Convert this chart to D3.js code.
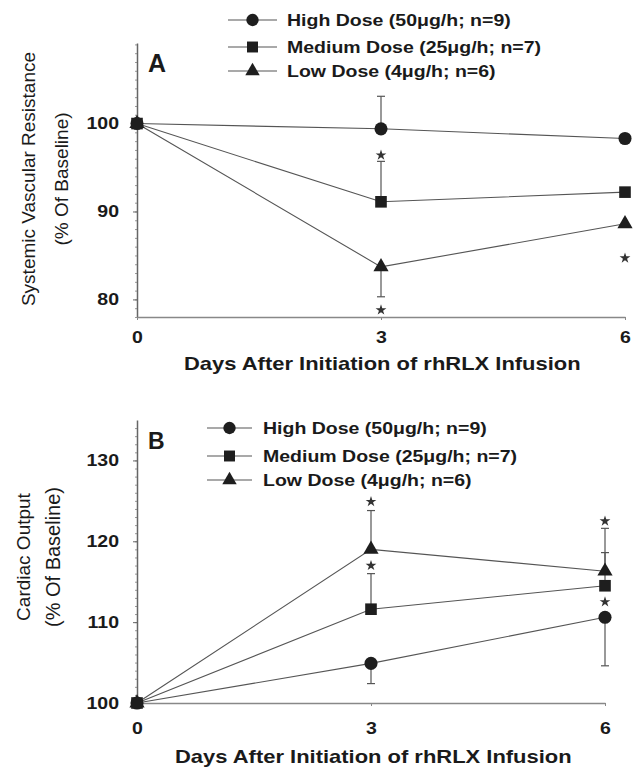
<!DOCTYPE html>
<html>
<head>
<meta charset="utf-8">
<script src="https://cdn.jsdelivr.net/npm/d3@7"></script>
<style>
  body { margin: 0; background: #fff; }
  text { font-family: "Liberation Sans", Arial, sans-serif; fill: #1a1a1a; }
</style>
</head>
<body>
<svg id="chart" width="638" height="772"></svg>
<script>
// days on the x axis
const days = [0, 3, 6];
const dayTicks = [0, 3, 6];

// legend
const doseLabels = ["High Dose (50\u03bcg/h; n=9)", "Medium Dose (25\u03bcg/h; n=7)", "Low Dose (4\u03bcg/h; n=6)"];
const doseSymbols = [d3.symbolCircle, d3.symbolSquare, d3.symbolTriangle];

// Panel A: systemic vascular resistance (% of baseline)
const svrHigh = [100, 99.4, 98.3];
const svrMedium = [100, 91.1, 92.2];
const svrLow = [100, 83.7, 88.6];
const svrErrors = [
    {dose: 0, day: 3, end: 103.1},
    {dose: 1, day: 3, end: 95.7},
    {dose: 2, day: 3, end: 80.3}
];
const svrStars = [
    {day: 3, value: 96.4},
    {day: 3, value: 78.8},
    {day: 6, value: 84.7}
];
const svrTicks = [80, 90, 100];

// Panel B: cardiac output (% of baseline)
const coHigh = [100, 104.9, 110.6];
const coMedium = [100, 111.6, 114.5];
const coLow = [100, 119.0, 116.3];
const coErrors = [
    {dose: 0, day: 3, end: 102.4},
    {dose: 0, day: 6, end: 104.6},
    {dose: 1, day: 3, end: 116.0},
    {dose: 1, day: 6, end: 118.6},
    {dose: 2, day: 3, end: 123.8},
    {dose: 2, day: 6, end: 121.6}
];
const coStars = [
    {day: 3, value: 124.9},
    {day: 3, value: 117.0},
    {day: 6, value: 122.5},
    {day: 6, value: 112.5}
];
const coTicks = [100, 110, 120, 130];

const svg = d3.select("svg#chart");
const stretch = 1.22; // the scanned figure is a little wider than tall

// text that is squeezed out horizontally like the original
function label(g, x, y, str, size, weight, anchor) {
    return g.append("text")
        .attr("transform", `translate(${x},${y}) scale(${stretch},1)`)
        .attr("text-anchor", anchor || "start")
        .style("font-size", size + "px")
        .style("font-weight", weight || "bold")
        .text(str);
}

function panel(opt) {
    const g = svg.append("g");
    const x = d3.scaleLinear().domain([0, 6]).range([opt.left, opt.right]);
    const y = d3.scaleLinear().domain(opt.yDomain).range([opt.bottom, opt.top]);
    const series = opt.series;

    // minor ticks on the y axis
    g.append("g")
        .attr("transform", `translate(${opt.left},0)`)
        .call(d3.axisLeft(y).tickValues(d3.range(Math.ceil(opt.yDomain[0]), opt.yDomain[1], 1))
            .tickSize(2).tickFormat(""))
        .call(a => a.select(".domain").remove())
        .selectAll("line").attr("stroke", "#999");

    // y axis
    const yAxis = g.append("g")
        .attr("transform", `translate(${opt.left},0)`)
        .call(d3.axisLeft(y).tickValues(opt.ticks).tickSize(4).tickSizeOuter(0).tickFormat(d3.format("d")));
    yAxis.select(".domain").attr("stroke", "#666").attr("stroke-width", 1.5);
    yAxis.selectAll(".tick line").attr("stroke", "#666");
    yAxis.selectAll(".tick text")
        .attr("x", -18 / stretch)
        .attr("transform", `scale(${stretch},1)`)
        .style("font-size", "16px").style("font-weight", "bold");

    // x axis
    const xAxis = g.append("g")
        .attr("transform", `translate(0,${opt.bottom})`)
        .call(d3.axisBottom(x).tickValues(dayTicks).tickSize(3).tickSizeOuter(0).tickFormat(d3.format("d")));
    xAxis.select(".domain").attr("stroke", "#888").attr("stroke-width", 1.5);
    xAxis.selectAll(".tick line").attr("stroke", "#888");
    xAxis.selectAll(".tick text")
        .attr("y", opt.xTickY)
        .attr("dy", 0)
        .attr("transform", `scale(${stretch},1)`)
        .attr("x", 0)
        .style("font-size", "16px").style("font-weight", "bold");

    // error bars (one-sided)
    g.append("g").selectAll("g")
        .data(opt.errors)
        .join("g")
        .each(function (d) {
            const e = d3.select(this);
            const cx = x(d.day);
            const v = series[d.dose][days.indexOf(d.day)];
            e.append("line")
                .attr("x1", cx).attr("x2", cx)
                .attr("y1", y(v)).attr("y2", y(d.end))
                .attr("stroke", "#555").attr("stroke-width", 1.2);
            e.append("line")
                .attr("x1", cx - 4).attr("x2", cx + 4)
                .attr("y1", y(d.end)).attr("y2", y(d.end))
                .attr("stroke", "#555").attr("stroke-width", 1.2);
        });

    // lines
    const line = d3.line().x((d, i) => x(days[i])).y(d => y(d));
    g.append("g").selectAll("path")
        .data(series)
        .join("path")
        .attr("d", d => line(d))
        .attr("fill", "none")
        .attr("stroke", "#555")
        .attr("stroke-width", 1.1);

    // markers
    series.forEach((s, k) => {
        g.append("g").selectAll("path")
            .data(s)
            .join("path")
            .attr("transform", (d, i) => `translate(${x(days[i])},${y(d)})`)
            .attr("d", d3.symbol().type(doseSymbols[k]).size(k === 2 ? 100 : 135))
            .attr("fill", "#1e1e1e");
    });

    // significance stars
    g.append("g").selectAll("path")
        .data(opt.stars)
        .join("path")
        .attr("transform", d => `translate(${x(d.day)},${y(d.value)})`)
        .attr("d", d3.symbol().type(d3.symbolStar).size(36))
        .attr("fill", "#333");

    // legend
    const lg = g.append("g");
    doseLabels.forEach((t, k) => {
        const ly = opt.legendY[k];
        lg.append("line")
            .attr("x1", opt.legendX).attr("x2", opt.legendX + opt.legendLine)
            .attr("y1", ly).attr("y2", ly)
            .attr("stroke", "#555").attr("stroke-width", 1.2);
        lg.append("path")
            .attr("transform", `translate(${opt.legendX + opt.legendLine / 2},${ly})`)
            .attr("d", d3.symbol().type(doseSymbols[k]).size(k === 2 ? 90 : 120))
            .attr("fill", "#1e1e1e");
        label(lg, opt.legendText, ly + 6, t, 16, "bold");
    });

    // panel letter
    g.append("text")
        .attr("x", opt.left + 11).attr("y", opt.letterY)
        .style("font-size", opt.letterSize + "px").style("font-weight", "bold")
        .text(opt.letter);

    // axis titles
    label(g, opt.xTitleX, opt.xTitleY, "Days After Initiation of rhRLX Infusion", 18, "bold");
    opt.yTitle.forEach((t, k) => {
        g.append("text")
            .attr("transform", `translate(${opt.yTitleX[k]},${opt.yTitleY}) rotate(-90)`)
            .attr("text-anchor", "middle")
            .style("font-size", opt.yTitleSize[k] + "px")
            .text(t);
    });
}

panel({
    series: [svrHigh, svrMedium, svrLow],
    errors: svrErrors,
    stars: svrStars,
    ticks: svrTicks,
    yDomain: [78, 109.16],
    left: 137, right: 625, top: 43, bottom: 317,
    xTickY: 26,
    legendX: 228, legendLine: 49, legendText: 287, legendY: [20, 47, 71],
    letter: "A", letterY: 72, letterSize: 25,
    xTitleX: 184, xTitleY: 370,
    yTitle: ["Systemic Vascular Resistance", "(% Of Baseline)"],
    yTitleX: [35, 68], yTitleY: 179, yTitleSize: [19, 19]
});

panel({
    series: [coHigh, coMedium, coLow],
    errors: coErrors,
    stars: coStars,
    ticks: coTicks,
    yDomain: [100, 135],
    left: 137, right: 605, top: 420, bottom: 703,
    xTickY: 31,
    legendX: 207, legendLine: 45, legendText: 263, legendY: [428, 456, 480],
    letter: "B", letterY: 449, letterSize: 23,
    xTitleX: 175, xTitleY: 763,
    yTitle: ["Cardiac Output", "(% Of Baseline)"],
    yTitleX: [30, 60], yTitleY: 557, yTitleSize: [19, 20]
});
</script>
</body>
</html>
